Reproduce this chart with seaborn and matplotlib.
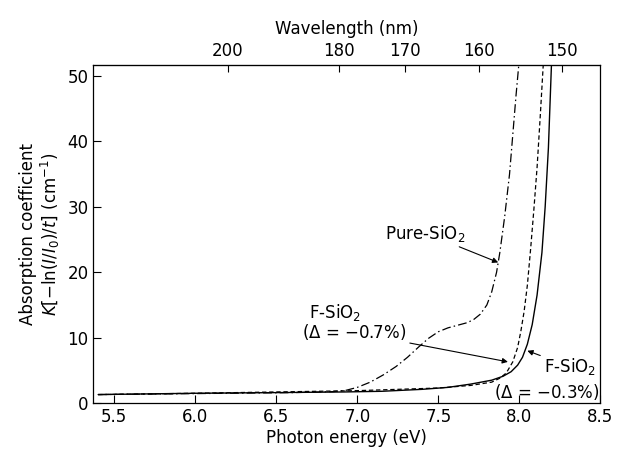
import numpy as np
import pandas as pd
import matplotlib
matplotlib.use("Agg")
import matplotlib.pyplot as plt
import seaborn as sns

# ---- data ----
pure_E = [5.40, 5.80, 6.20, 6.60, 6.85, 6.93, 7.00, 7.08, 7.16, 7.24, 7.31, 7.38, 7.44, 7.50, 7.56, 7.62,
          7.68, 7.72, 7.76, 7.80, 7.83, 7.86, 7.88, 7.91, 7.94, 7.96, 7.98, 8.00]
pure_K = [1.3, 1.4, 1.5, 1.6, 1.75, 1.95, 2.4, 3.2, 4.3, 5.6, 7.0, 8.6, 9.9, 10.9, 11.5, 11.9,
          12.3, 12.8, 13.6, 15.0, 17.0, 20.0, 23.0, 28.5, 35.0, 41.0, 47.0, 52.5]

f07_E = [5.40, 6.00, 6.50, 7.00, 7.50, 7.70, 7.83, 7.88, 7.92, 7.96, 7.99, 8.01, 8.03, 8.05, 8.07, 8.09, 8.11, 8.13, 8.15]
f07_K = [1.3, 1.5, 1.7, 1.9, 2.3, 2.7, 3.2, 3.8, 4.6, 6.3, 8.5, 11.0, 14.0, 18.0, 23.5, 29.5, 36.0, 44.0, 52.5]

f03_E = [5.40, 6.00, 6.50, 6.92, 7.15, 7.40, 7.56, 7.70, 7.83, 7.90, 7.95, 7.99, 8.02, 8.05, 8.08, 8.11, 8.14, 8.16, 8.18, 8.20]
f03_K = [1.3, 1.5, 1.6, 1.7, 1.8, 2.1, 2.4, 2.9, 3.5, 4.1, 4.8, 5.8, 7.0, 9.0, 12.0, 16.5, 23.0, 30.0, 39.0, 52.5]

x_ticks = [5.5, 6.0, 6.5, 7.0, 7.5, 8.0, 8.5]
y_ticks = [0, 10, 20, 30, 40, 50]
wl_ticks = [200, 180, 170, 160, 150]

sns.set_style("ticks")
plt.rcParams['font.family'] = ['DejaVu Sans']
plt.rcParams['mathtext.fontset'] = 'dejavusans'
plt.rcParams['text.color'] = 'black'
plt.rcParams['axes.labelcolor'] = 'black'
plt.rcParams['xtick.color'] = 'black'
plt.rcParams['ytick.color'] = 'black'

fig = plt.figure(figsize=(6.22, 4.57), dpi=100)
ax = fig.add_axes([0.150, 0.118, 0.815, 0.740])

df_pure = pd.DataFrame({"E": pure_E, "K": pure_K})
df_07 = pd.DataFrame({"E": f07_E, "K": f07_K})
df_03 = pd.DataFrame({"E": f03_E, "K": f03_K})

sns.lineplot(data=df_pure, x="E", y="K", ax=ax, color="black", lw=0.9, sort=False)
ax.lines[-1].set_dashes([7, 2.5, 1.2, 2.5])
sns.lineplot(data=df_07, x="E", y="K", ax=ax, color="black", lw=0.9, sort=False)
ax.lines[-1].set_dashes([3.5, 2.2])
sns.lineplot(data=df_03, x="E", y="K", ax=ax, color="black", lw=1.0, sort=False)

ax.set_xlim(5.37, 8.5)
ax.set_ylim(0, 51.7)
ax.set_xticks(x_ticks)
ax.set_xticklabels([f"{v:.1f}" for v in x_ticks])
ax.set_yticks(y_ticks)
ax.tick_params(axis="both", direction="in", length=6, width=0.8, labelsize=12, colors="black")
for s in ax.spines.values():
    s.set_linewidth(0.9)
    s.set_color("black")

ax.set_xlabel("Photon energy (eV)", fontsize=12, labelpad=2)
ax.set_ylabel("Absorption coefficient\n$K$[$-$ln($I$/$I_0$)/$t$] (cm$^{-1}$)", fontsize=12, labelpad=4, linespacing=1.1)

hc = 1239.84
sec = ax.secondary_xaxis("top", functions=(lambda e: hc / np.asarray(e, dtype=float),
                                            lambda l: hc / np.asarray(l, dtype=float)))
sec.set_xticks(wl_ticks)
sec.set_xticklabels([str(v) for v in wl_ticks])
sec.tick_params(direction="in", length=5, width=0.8, labelsize=12, colors="black")
sec.set_xlabel("Wavelength (nm)", fontsize=12, labelpad=6)

arrow = dict(arrowstyle="-|>", color="black", lw=0.8, mutation_scale=8, shrinkA=0, shrinkB=0)

ax.annotate("Pure-SiO$_2$", xy=(7.87, 21.5), xytext=(7.17, 26.0), fontsize=12,
            va="center", ha="left", arrowprops=arrow)
ax.text(6.70, 13.9, "F-SiO$_2$", fontsize=12, va="center", ha="left")
ax.annotate("($\\Delta$ = $-$0.7%)", xy=(7.93, 6.3), xytext=(6.66, 10.8), fontsize=12,
            va="center", ha="left", arrowprops=arrow)
ax.annotate("F-SiO$_2$", xy=(8.05, 8.0), xytext=(8.15, 5.6), fontsize=12,
            va="center", ha="left", arrowprops=arrow)
ax.text(8.495, 1.7, "($\\Delta$ = $-$0.3%)", fontsize=12, va="center", ha="right")

fig.savefig("out.png", dpi=100)
